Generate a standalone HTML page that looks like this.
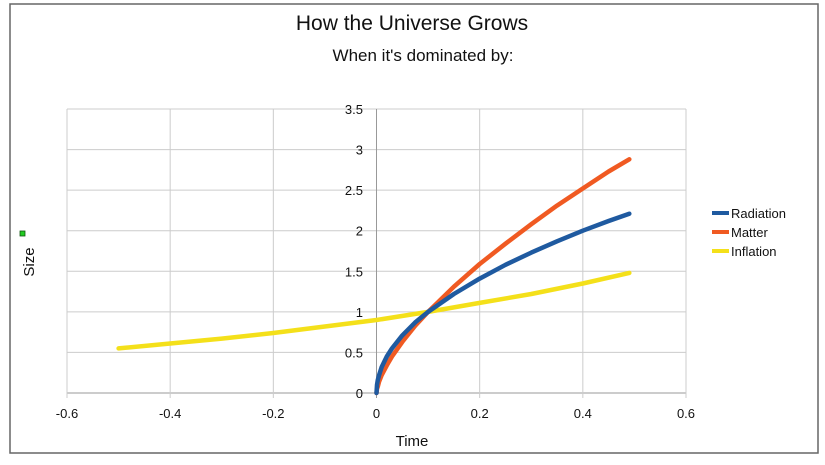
<!DOCTYPE html>
<html><head><meta charset="utf-8"><style>
body{margin:0;background:#fff;font-family:"Liberation Sans",sans-serif;}
svg text{font-family:"Liberation Sans",sans-serif;fill:#111;}
</style></head><body>
<svg width="825" height="460">
<rect x="10" y="4" width="808" height="449" fill="#fff" stroke="#666" stroke-width="1.5"/>
<text x="412" y="30" font-size="21" text-anchor="middle">How the Universe Grows</text>
<text x="423" y="61" font-size="17" text-anchor="middle">When it's dominated by:</text>
<g id="grid"></g><g id="series"></g><g id="ticks"></g>
<text x="412" y="446" font-size="15" text-anchor="middle">Time</text>
<text transform="translate(34,262) rotate(-90)" font-size="15" text-anchor="middle">Size</text>
<rect x="20" y="231" width="5" height="5" fill="#22cc22" stroke="#115511" stroke-width="0.8"/>
<g>
<line x1="712" y1="213" x2="729" y2="213" stroke="#1f5aa0" stroke-width="4"/><text x="731" y="218" font-size="13">Radiation</text>
<line x1="712" y1="232" x2="729" y2="232" stroke="#f05a22" stroke-width="4"/><text x="731" y="237" font-size="13">Matter</text>
<line x1="712" y1="251" x2="729" y2="251" stroke="#f4e01a" stroke-width="4"/><text x="731" y="256" font-size="13">Inflation</text>
</g>
</svg>
<script>
const xTicks=[-0.6,-0.4,-0.2,0,0.2,0.4,0.6];
const yTicks=[0,0.5,1,1.5,2,2.5,3,3.5];
const tEarly=[0,0.001,0.0025,0.005,0.01,0.02,0.03,0.05,0.075,0.1,0.15,0.2,0.25,0.3,0.35,0.4,0.45,0.49];
const radiation=[0,0.1,0.16,0.22,0.32,0.45,0.55,0.71,0.87,1,1.22,1.41,1.58,1.73,1.87,2.0,2.12,2.21];
const matter=[0,0.05,0.08,0.14,0.22,0.34,0.45,0.63,0.83,1,1.31,1.59,1.84,2.08,2.31,2.52,2.73,2.88];
const tInfl=[-0.5,-0.4,-0.3,-0.2,-0.1,0,0.1,0.2,0.3,0.4,0.49];
const inflation=[0.55,0.61,0.67,0.74,0.82,0.9,1,1.11,1.22,1.35,1.48];
const NS="http://www.w3.org/2000/svg";
const X=v=>67+(v+0.6)/1.2*619, Y=v=>393-v/3.5*284;
function mk(tag,attrs,parent){const e=document.createElementNS(NS,tag);for(const k in attrs)e.setAttribute(k,attrs[k]);document.getElementById(parent).appendChild(e);return e;}
yTicks.forEach(v=>{
 const l=mk('line',{x1:67,x2:686,y1:Y(v),y2:Y(v),stroke:v===0?'#999':'#ccc','stroke-width':1},'grid');
 
 
 const t=mk('text',{x:363,y:Y(v)+5,'font-size':13,'text-anchor':'end'},'ticks');t.textContent=v;
 
 
});
xTicks.forEach(v=>{
 const l=mk('line',{x1:X(v),x2:X(v),y1:Y(3.5),y2:Y(0)+5,stroke:v===0?'#999':'#ccc','stroke-width':1},'grid');
 
 
 const t=mk('text',{x:X(v),y:418,'font-size':13,'text-anchor':'middle'},'ticks');t.textContent=v;
 
 
});
function line(ts,vs,color,name){
 const d=ts.map((t,i)=>(i?'L':'M')+X(t).toFixed(1)+','+Y(vs[i]).toFixed(1)).join(' ');
 const p=mk('path',{d:d,fill:'none',stroke:color,'stroke-width':4.5,'stroke-linejoin':'round','stroke-linecap':'round'},'series');
 
 
}
line(tInfl,inflation,'#f4e01a','inflation-line');
line(tEarly,matter,'#f05a22','matter-line');
line(tEarly,radiation,'#1f5aa0','radiation-line');
</script>
</body></html>
